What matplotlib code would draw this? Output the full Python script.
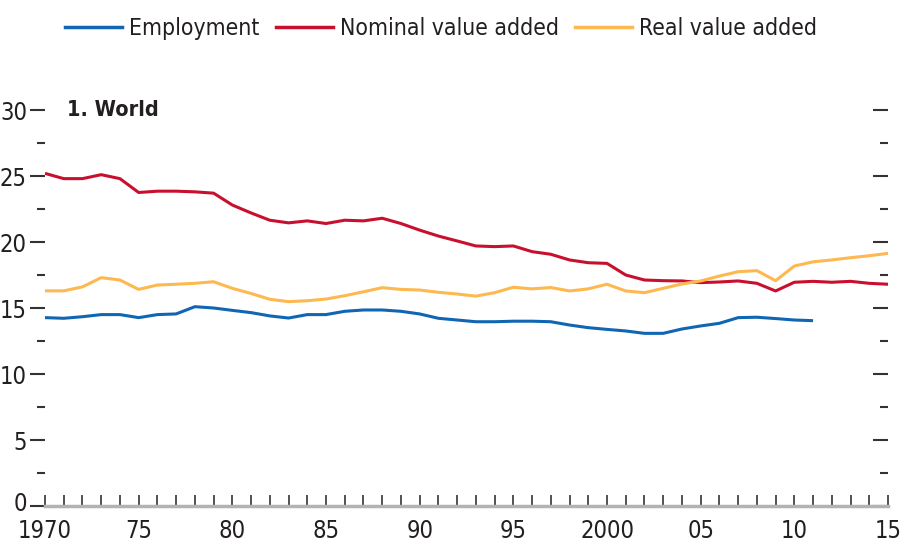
import numpy as np
import matplotlib
matplotlib.use("Agg")
import matplotlib.pyplot as plt
import matplotlib.transforms as mtransforms
from matplotlib.lines import Line2D
from matplotlib.ticker import MultipleLocator

plt.rcParams["font.family"] = ["DejaVu Sans"]
plt.rcParams["font.stretch"] = "condensed"

# Données (parts en %, Monde)
years_nominal = list(range(1970, 2016))
nominal = [25.2, 24.8, 24.8, 25.1, 24.8, 23.75, 23.85, 23.85, 23.8, 23.7,
           22.8, 22.2, 21.65, 21.45, 21.6, 21.4, 21.65, 21.6, 21.8, 21.4,
           20.9, 20.45, 20.08, 19.7, 19.65, 19.7, 19.27, 19.07, 18.64, 18.43,
           18.38, 17.5, 17.12, 17.07, 17.05, 16.92, 16.97, 17.05, 16.87, 16.29,
           16.95, 17.02, 16.95, 17.02, 16.87, 16.8]

years_real = list(range(1970, 2016))
real = [16.3, 16.3, 16.6, 17.3, 17.12, 16.41, 16.74, 16.8, 16.87, 16.99,
        16.49, 16.1, 15.66, 15.48, 15.55, 15.68, 15.93, 16.23, 16.54, 16.41,
        16.36, 16.19, 16.06, 15.9, 16.16, 16.57, 16.45, 16.55, 16.29, 16.45,
        16.8, 16.29, 16.16, 16.49, 16.82, 17.05, 17.42, 17.75, 17.83, 17.07,
        18.18, 18.5, 18.64, 18.81, 18.96, 19.14]

years_emp = list(range(1970, 2012))
employment = [14.27, 14.22, 14.34, 14.5, 14.5, 14.27, 14.5, 14.55, 15.1, 15.0,
              14.82, 14.65, 14.4, 14.24, 14.5, 14.5, 14.75, 14.85, 14.85, 14.75,
              14.55, 14.22, 14.09, 13.96, 13.96, 14.0, 14.0, 13.96, 13.71, 13.51,
              13.38, 13.26, 13.08, 13.08, 13.41, 13.64, 13.84, 14.27, 14.3, 14.2,
              14.09, 14.04]

x_ticks = [1970, 1975, 1980, 1985, 1990, 1995, 2000, 2005, 2010, 2015]
x_labels = ["1970", "75", "80", "85", "90", "95", "2000", "05", "10", "15"]

BLUE = "#1166b3"
RED = "#c8102e"
YELLOW = "#fdb84f"
TXT = "#231f20"

fig = plt.figure(figsize=(9.04, 5.43), dpi=100)
ax = fig.add_axes([45 / 904, 1 - 506 / 543, (888 - 45) / 904, (506 - 110) / 543])

ax.plot(years_emp, employment, color=BLUE, lw=2.2, solid_capstyle="butt")
ax.plot(years_nominal, nominal, color=RED, lw=2.2, solid_capstyle="butt")
ax.plot(years_real, real, color=YELLOW, lw=2.2, solid_capstyle="butt")

ax.set_xlim(1970, 2015)
ax.set_ylim(0, 30)

for s in ["top", "left", "right"]:
    ax.spines[s].set_visible(False)
ax.spines["bottom"].set_color("#b3b3b3")
ax.spines["bottom"].set_linewidth(2.5)

ax.set_xticks(x_ticks)
ax.set_xticklabels(x_labels)
ax.xaxis.set_minor_locator(MultipleLocator(1))
ax.tick_params(axis="x", which="both", direction="in", length=8, width=1.2,
               color="#333333", labelsize=17, labelcolor=TXT, pad=9)

ax.set_yticks([0, 5, 10, 15, 20, 25, 30])
ax.yaxis.set_minor_locator(MultipleLocator(2.5))
ax.tick_params(axis="y", which="major", direction="out", length=11, width=1.5,
               color="#333333", labelsize=17, labelcolor=TXT, pad=2)
ax.tick_params(axis="y", which="minor", direction="out", length=6, width=1.5,
               color="#333333")
ax.tick_params(axis="y", which="both", right=True, labelright=False)
# ticks à droite vers l'intérieur
for tick in ax.yaxis.get_major_ticks() + ax.yaxis.get_minor_ticks():
    tick.tick2line.set_marker(0)

# "0" légèrement remonté pour ne pas toucher "1970"
lab0 = ax.get_yticklabels()[0]
lab0.set_transform(lab0.get_transform() +
                   mtransforms.ScaledTranslation(0, 3 / 72, fig.dpi_scale_trans))

ax.text(0.026, 1.0, "1. World", transform=ax.transAxes, fontsize=15.5,
        fontweight="bold", color=TXT, va="center", ha="left")

handles = [Line2D([], [], color=BLUE, lw=2.5),
           Line2D([], [], color=RED, lw=2.5),
           Line2D([], [], color=YELLOW, lw=2.5)]
fig.legend(handles, ["Employment", "Nominal value added", "Real value added"],
           loc="center", bbox_to_anchor=(0.488, 0.948), ncol=3, frameon=False,
           fontsize=16.5, handlelength=2.5, handletextpad=0.3, columnspacing=0.7,
           labelcolor=TXT)

fig.savefig("out.png", dpi=100)
